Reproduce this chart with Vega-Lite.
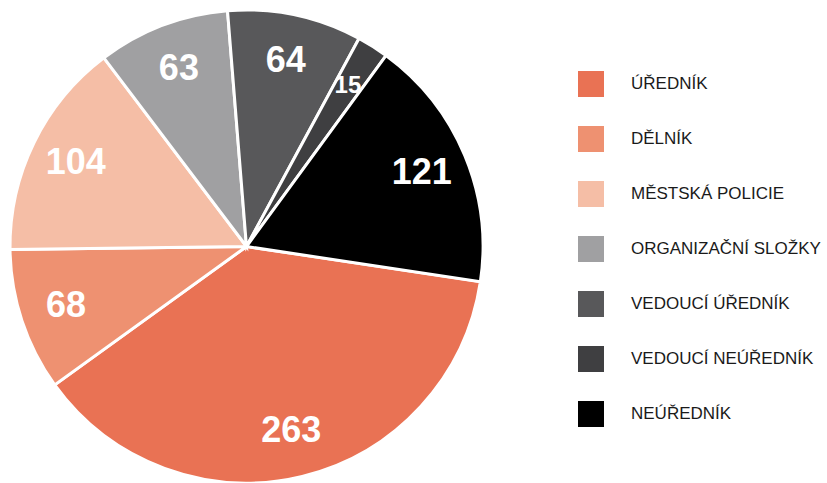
{
  "$schema": "https://vega.github.io/schema/vega-lite/v6.json",
  "width": 493,
  "height": 473,
  "autosize": "none",
  "padding": {"top": 10, "left": 0, "right": 334, "bottom": 0},
  "background": "white",
  "config": {"view": {"stroke": null}},
  "data": {
    "values": [
      {"kategorie": "ÚŘEDNÍK", "pocet": 263, "poradi": 1},
      {"kategorie": "DĚLNÍK", "pocet": 68, "poradi": 2},
      {"kategorie": "MĚSTSKÁ POLICIE", "pocet": 104, "poradi": 3},
      {"kategorie": "ORGANIZAČNÍ SLOŽKY", "pocet": 63, "poradi": 4},
      {"kategorie": "VEDOUCÍ ÚŘEDNÍK", "pocet": 64, "poradi": 5},
      {"kategorie": "VEDOUCÍ NEÚŘEDNÍK", "pocet": 15, "poradi": 6},
      {"kategorie": "NEÚŘEDNÍK", "pocet": 121, "poradi": 7}
    ]
  },
  "encoding": {
    "theta": {"field": "pocet", "type": "quantitative", "stack": true, "scale": {"range": [1.72, 8.0032]}},
    "order": {"field": "poradi", "type": "quantitative"}
  },
  "layer": [
    {
      "mark": {"type": "arc", "stroke": "white", "strokeWidth": 3},
      "encoding": {
        "color": {
          "field": "kategorie",
          "type": "nominal",
          "scale": {
            "domain": ["ÚŘEDNÍK", "DĚLNÍK", "MĚSTSKÁ POLICIE", "ORGANIZAČNÍ SLOŽKY", "VEDOUCÍ ÚŘEDNÍK", "VEDOUCÍ NEÚŘEDNÍK", "NEÚŘEDNÍK"],
            "range": ["#E97254", "#EE9171", "#F5BEA6", "#A0A0A2", "#58585A", "#3F3F41", "#000000"]
          },
          "legend": {
            "title": null,
            "orient": "none",
            "legendX": 578,
            "legendY": 61,
            "symbolType": "square",
            "symbolSize": 676,
            "symbolStrokeWidth": 0,
            "symbolOpacity": 1,
            "labelFont": "Liberation Sans",
            "labelFontSize": 17,
            "labelColor": "#1a1a1a",
            "labelOffset": 27,
            "labelLimit": 300,
            "rowPadding": 29,
            "padding": 0
          }
        }
      }
    },
    {
      "mark": {"type": "text", "radius": 190, "font": "Liberation Sans", "fontWeight": "bold", "fill": "white", "align": "center", "baseline": "middle"},
      "encoding": {
        "text": {"field": "pocet", "type": "quantitative"},
        "size": {"condition": {"test": "datum.pocet < 20", "value": 24}, "value": 36}
      }
    }
  ]
}
